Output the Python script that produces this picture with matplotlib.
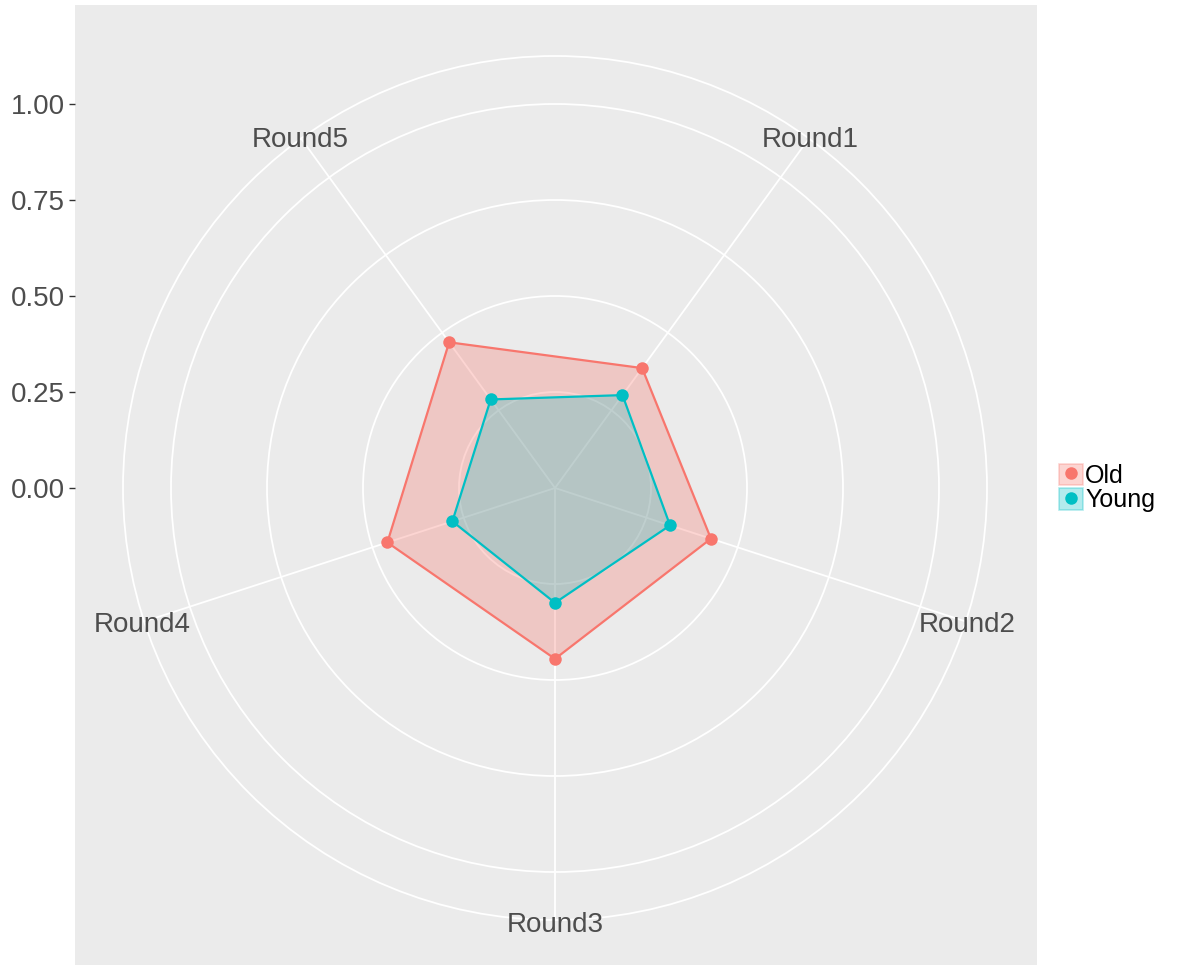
import numpy as np
import matplotlib.pyplot as plt
from matplotlib.patches import Circle, Patch
from matplotlib.lines import Line2D

rounds = ["Round1", "Round2", "Round3", "Round4", "Round5"]
old = [0.386, 0.427, 0.445, 0.459, 0.469]
young = [0.299, 0.315, 0.299, 0.281, 0.285]
r_breaks = [0.00, 0.25, 0.50, 0.75, 1.00]
r_outer = 1.125

c_old = "#F8766D"
c_young = "#00BFC4"
plt.rcParams["font.family"] = ["Liberation Sans", "DejaVu Sans"]

fig = plt.figure(figsize=(11.8, 9.67), dpi=100)
ax = fig.add_axes([75 / 1180, 2 / 967, 962 / 1180, 960 / 967])
ax.set_facecolor("#EBEBEB")
ax.set_xlim(-480 / 384, 482 / 384)
ax.set_ylim(-477 / 384, 483 / 384)

# angles clockwise from top, Round1 at 36 deg
ang = np.deg2rad(36 + 72 * np.arange(len(rounds)))

# grid circles and spokes
for r in r_breaks[1:] + [r_outer]:
    ax.add_patch(Circle((0, 0), r, fill=False, ec="white", lw=1.3, zorder=1))
for a in ang:
    ax.plot([0, r_outer * np.sin(a)], [0, r_outer * np.cos(a)], color="white", lw=1.3, zorder=1)

for vals, col, alf in [(old, c_old, 0.3), (young, c_young, 0.24)]:
    v = np.array(vals)
    x = v * np.sin(ang)
    y = v * np.cos(ang)
    ax.fill(x, y, color=col, alpha=alf, lw=0, zorder=2)
    ax.plot(np.append(x, x[0]), np.append(y, y[0]), color=col, lw=1.6, zorder=3)
    ax.plot(x, y, "o", color=col, ms=9, mec="none", zorder=4)

for a, lab in zip(ang, rounds):
    ax.text(1.13 * np.sin(a), 1.13 * np.cos(a) - 0.008, lab, ha="center", va="center",
            fontsize=20, color="#4D4D4D", zorder=5)

ax.set_xticks([])
ax.set_yticks(r_breaks)
ax.set_yticklabels(["%.2f" % b for b in r_breaks])
ax.tick_params(axis="y", length=4.5, width=1, color="#333333", labelsize=20,
               labelcolor="#4D4D4D", pad=3)
for s in ax.spines.values():
    s.set_visible(False)

handles = [(Patch(facecolor=c, alpha=0.3, edgecolor=c, lw=1.2),
            Line2D([], [], marker="o", color=c, ls="none", ms=9, mec="none"))
           for c in [c_old, c_young]]
fig.legend(handles, ["Old", "Young"], loc="center left",
           bbox_to_anchor=(1059 / 1180, 1 - 488 / 967), frameon=False,
           fontsize=18, handlelength=0.95, handleheight=0.95, labelspacing=0.0,
           handletextpad=0.1, borderpad=0, borderaxespad=0)

fig.savefig("out.png", dpi=100)
